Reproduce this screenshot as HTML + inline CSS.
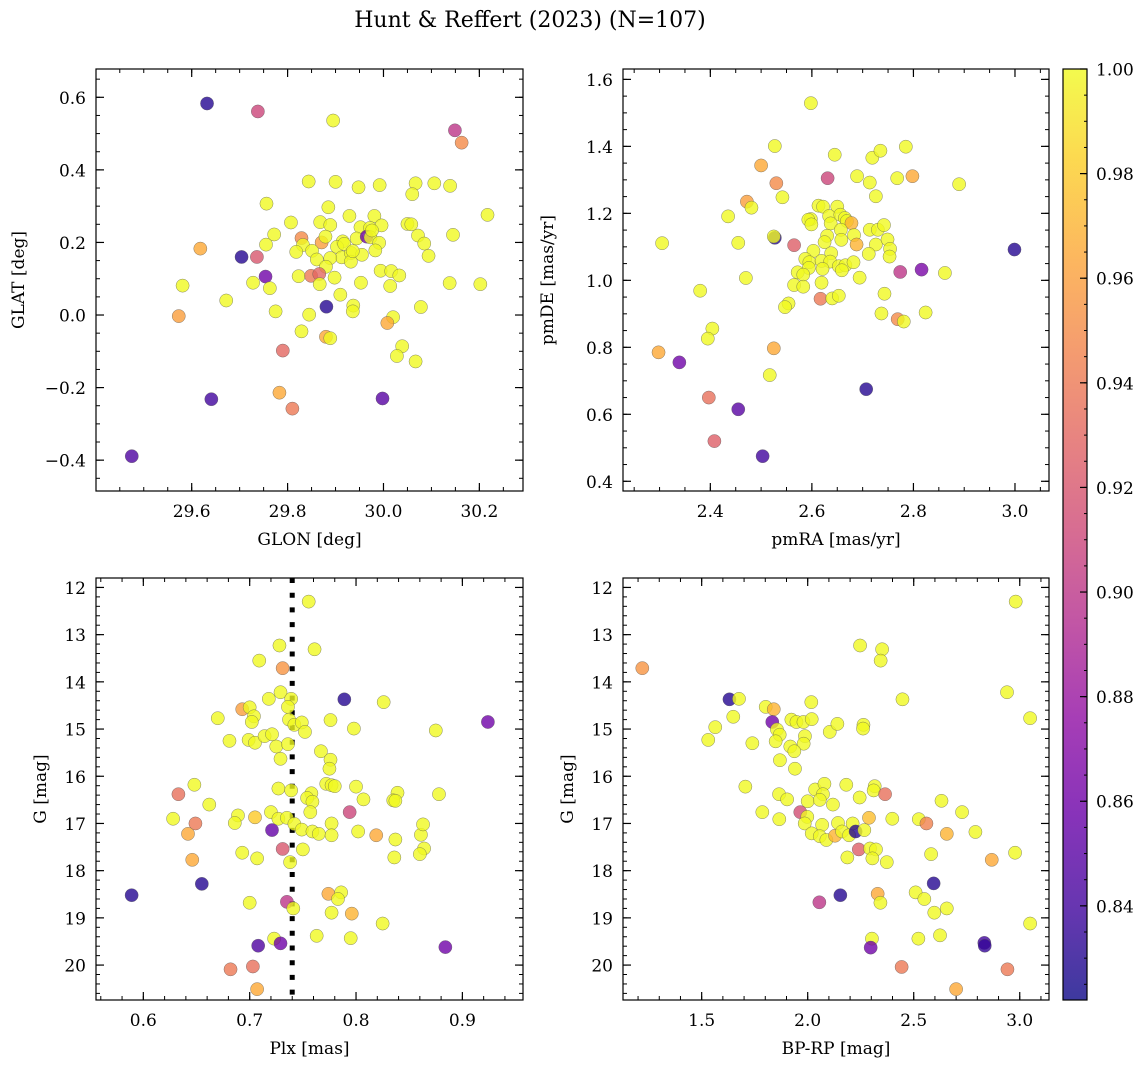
<!DOCTYPE html>
<html><head><meta charset="utf-8">
<style>
html,body{margin:0;padding:0;background:#fff;}
svg{display:block;font-family:"DejaVu Serif","Liberation Serif",serif;}
</style></head>
<body>
<svg id="fig" width="1148" height="1068" viewBox="0 0 1148 1068" xmlns="http://www.w3.org/2000/svg">
<text x="530" y="27" font-size="22" text-anchor="middle">Hunt &amp; Reffert (2023) (N=107)</text>
<defs>
<linearGradient id="plasma" x1="0" y1="1" x2="0" y2="0">
<stop offset="0" stop-color="#0d0887"/><stop offset="0.1" stop-color="#41049d"/><stop offset="0.2" stop-color="#6a00a8"/><stop offset="0.3" stop-color="#8f0da4"/><stop offset="0.4" stop-color="#b12a90"/><stop offset="0.5" stop-color="#cc4778"/><stop offset="0.6" stop-color="#e16462"/><stop offset="0.7" stop-color="#f2844b"/><stop offset="0.8" stop-color="#fca636"/><stop offset="0.9" stop-color="#fcce25"/><stop offset="1" stop-color="#f0f921"/>
</linearGradient>
</defs>
</svg>
<script>
// ---------- DATA ----------
const p1x=[29.632,29.738,29.895,30.149,30.163,29.844,29.900,29.948,29.992,30.067,30.060,30.106,30.139,29.756,29.885,30.217,29.929,29.981,29.807,29.868,29.889,29.952,29.972,29.996,30.050,30.058,30.072,30.145,29.772,29.755,29.829,29.832,29.871,29.879,29.915,29.944,29.965,29.973,29.991,29.903,29.818,29.851,29.913,29.932,29.955,29.983,30.085,30.094,29.861,29.889,29.932,29.880,29.618,29.704,29.736,29.754,29.823,29.849,29.866,29.867,29.898,29.953,29.994,30.016,30.033,30.014,30.138,30.202,29.581,29.728,29.763,29.672,29.910,29.881,29.937,29.936,30.078,29.573,29.775,29.845,29.829,29.880,29.889,30.020,30.008,30.039,30.028,30.067,29.790,29.783,29.810,29.641,29.998,29.475,29.918,29.936,29.976];
const p1y=[0.583,0.561,0.536,0.509,0.475,0.368,0.367,0.352,0.358,0.363,0.333,0.363,0.356,0.307,0.297,0.276,0.273,0.273,0.255,0.256,0.248,0.242,0.240,0.247,0.251,0.250,0.219,0.221,0.222,0.194,0.212,0.193,0.200,0.216,0.203,0.211,0.216,0.214,0.199,0.188,0.174,0.177,0.159,0.171,0.166,0.178,0.197,0.163,0.153,0.157,0.147,0.133,0.183,0.160,0.160,0.106,0.107,0.108,0.113,0.085,0.103,0.089,0.122,0.121,0.109,0.080,0.088,0.085,0.081,0.089,0.074,0.040,0.056,0.023,0.026,0.010,0.022,-0.003,0.010,0.001,-0.045,-0.060,-0.064,-0.006,-0.022,-0.086,-0.113,-0.128,-0.098,-0.214,-0.258,-0.232,-0.230,-0.389,0.196,0.176,0.233];
const p1p=[0.83,0.91,1,0.90,0.95,1,1,1,1,1,1,1,1,1,1,1,1,1,1,1,1,1,1,1,1,1,1,1,1,1,0.95,1,0.96,1,1,1,0.86,1,1,1,1,1,1,1,1,1,1,1,1,1,1,1,0.965,0.83,0.92,0.86,1,0.94,0.93,1,1,1,1,1,1,1,1,1,1,1,1,1,1,0.83,1,1,1,0.96,1,1,1,0.965,1,1,0.965,1,1,1,0.93,0.965,0.94,0.84,0.85,0.845,1,1,1];

const p2x=[2.598,2.527,2.645,2.719,2.735,2.785,2.500,2.530,2.631,2.689,2.714,2.768,2.798,2.890,2.726,2.542,2.472,2.481,2.435,2.613,2.622,2.650,2.598,2.593,2.634,2.656,2.665,2.669,2.678,2.637,2.599,2.714,2.730,2.742,2.657,2.630,2.683,2.658,2.625,2.688,2.726,2.749,2.754,2.753,2.712,2.603,2.638,2.587,2.595,2.619,2.636,2.653,2.666,2.682,2.594,2.621,2.659,2.572,2.583,2.565,2.583,2.619,2.694,2.527,2.525,2.565,2.455,2.305,2.774,2.816,2.862,2.999,2.470,2.380,2.617,2.640,2.653,2.743,2.554,2.547,2.737,2.824,2.769,2.781,2.404,2.395,2.298,2.339,2.525,2.517,2.707,2.397,2.455,2.408,2.503];
const p2y=[1.529,1.401,1.375,1.366,1.387,1.399,1.343,1.290,1.305,1.311,1.292,1.305,1.311,1.287,1.251,1.248,1.235,1.217,1.191,1.223,1.220,1.220,1.183,1.181,1.192,1.196,1.186,1.177,1.171,1.170,1.167,1.151,1.151,1.165,1.151,1.133,1.135,1.121,1.114,1.107,1.107,1.122,1.094,1.071,1.079,1.088,1.081,1.064,1.054,1.058,1.056,1.042,1.045,1.054,1.037,1.034,1.030,1.024,1.017,0.986,0.981,0.993,1.008,1.127,1.131,1.105,1.112,1.111,1.025,1.032,1.022,1.092,1.007,0.969,0.945,0.946,0.954,0.960,0.931,0.920,0.901,0.904,0.884,0.877,0.856,0.826,0.785,0.755,0.797,0.717,0.675,0.650,0.615,0.520,0.475];
const p2p=[1,1,1,1,1,1,0.965,0.95,0.91,1,1,1,0.965,1,1,1,0.96,1,1,1,1,1,1,1,1,1,1,1,0.97,1,1,1,1,1,1,1,1,1,1,0.97,1,1,1,1,1,1,1,1,1,1,1,1,1,1,1,1,1,1,1,1,1,1,1,0.83,1,0.925,1,1,0.90,0.865,1,0.83,1,1,0.94,1,1,1,1,1,1,1,0.95,1,1,1,0.965,0.86,0.965,1,0.83,0.935,0.85,0.925,0.84];

const p3x=[0.7555,0.728,0.761,0.709,0.731,0.729,0.718,0.739,0.736,0.789,0.826,0.693,0.700,0.704,0.702,0.670,0.737,0.742,0.749,0.752,0.776,0.798,0.875,0.924,0.681,0.699,0.705,0.714,0.721,0.725,0.736,0.729,0.767,0.776,0.775,0.772,0.777,0.780,0.800,0.727,0.739,0.758,0.754,0.759,0.807,0.839,0.835,0.837,0.878,0.648,0.633,0.662,0.628,0.649,0.642,0.689,0.686,0.705,0.720,0.727,0.735,0.742,0.749,0.757,0.759,0.765,0.777,0.777,0.794,0.802,0.819,0.837,0.861,0.863,0.864,0.860,0.836,0.721,0.731,0.750,0.738,0.707,0.693,0.646,0.655,0.589,0.700,0.735,0.741,0.774,0.786,0.783,0.777,0.796,0.825,0.723,0.729,0.708,0.763,0.795,0.884,0.682,0.703,0.707];
const p3y=[12.30,13.23,13.31,13.55,13.71,14.22,14.36,14.36,14.53,14.37,14.43,14.58,14.54,14.73,14.85,14.77,14.80,14.91,14.86,15.06,14.81,14.99,15.03,14.85,15.25,15.23,15.29,15.15,15.11,15.37,15.32,15.63,15.47,15.65,15.84,16.16,16.19,16.21,16.22,16.26,16.30,16.36,16.46,16.54,16.49,16.35,16.51,16.52,16.38,16.18,16.38,16.60,16.90,17.00,17.22,16.83,16.99,16.87,16.76,16.90,16.88,17.01,17.13,16.76,17.17,17.22,17.00,17.25,16.76,17.17,17.25,17.34,17.24,17.02,17.53,17.65,17.72,17.14,17.54,17.55,17.82,17.74,17.62,17.77,18.28,18.52,18.68,18.66,18.80,18.49,18.46,18.60,18.89,18.91,19.12,19.44,19.54,19.59,19.38,19.43,19.62,20.09,20.03,20.51];
const p3p=[1,1,1,1,0.955,1,1,1,1,0.83,1,0.96,1,1,1,1,1,1,1,1,1,1,1,0.86,1,1,1,1,1,1,1,1,1,1,1,1,1,1,1,1,1,1,1,1,1,1,1,1,1,1,0.935,1,1,0.94,0.965,1,1,0.98,1,1,1,1,1,1,1,1,1,1,0.91,1,0.965,1,1,1,1,1,1,0.855,0.92,1,1,1,1,0.965,0.83,0.83,1,0.90,1,0.965,1,1,1,0.97,1,1,0.86,0.845,1,1,0.86,0.94,0.935,0.965];
const plxRef=[0.740];

const p4x=[2.981,2.247,2.351,2.344,1.220,2.940,2.447,1.631,1.676,3.049,2.017,1.802,1.840,1.833,1.649,1.564,1.531,1.739,1.855,1.868,1.849,1.923,1.947,1.980,2.019,1.987,1.981,1.918,1.937,2.104,2.140,2.263,2.261,1.869,1.940,1.706,1.865,1.903,1.786,1.866,2.000,2.035,2.079,2.072,2.057,2.119,2.182,2.245,2.316,2.311,2.365,1.965,1.998,1.986,2.068,2.019,2.057,2.088,2.129,2.143,2.162,2.195,2.212,2.226,2.267,2.289,2.399,2.187,2.241,2.294,2.322,2.305,2.373,2.524,2.560,2.631,2.728,2.656,2.791,2.582,2.868,2.978,2.594,2.154,2.055,2.330,2.343,2.509,2.550,2.597,2.656,3.049,2.303,2.297,2.522,2.624,2.833,2.835,2.443,2.942,2.700];
const p4y=[12.30,13.23,13.31,13.55,13.71,14.22,14.37,14.37,14.36,14.77,14.43,14.53,14.58,14.85,14.74,14.96,15.23,15.30,15.01,15.12,15.26,14.80,14.85,14.85,14.79,15.15,15.31,15.37,15.47,15.06,14.89,14.91,14.99,15.66,15.84,16.22,16.38,16.49,16.76,16.91,16.53,16.28,16.16,16.38,16.50,16.60,16.18,16.45,16.21,16.30,16.38,16.76,16.86,17.00,17.03,17.21,17.27,17.35,17.26,16.99,17.17,17.25,17.00,17.17,17.14,16.88,16.90,17.72,17.55,17.53,17.55,17.74,17.82,16.91,17.00,16.52,16.76,17.22,17.18,17.65,17.77,17.62,18.27,18.52,18.67,18.49,18.68,18.46,18.60,18.89,18.80,19.12,19.44,19.63,19.44,19.37,19.53,19.59,20.04,20.09,20.51];
const p4p=[1,1,1,1,0.955,1,1,0.83,1,1,1,1,0.97,0.86,1,1,1,1,1,1,1,1,1,1,1,1,1,1,1,1,1,1,1,1,1,1,1,1,1,1,1,1,1,1,1,1,1,1,1,1,0.935,0.915,1,1,1,1,1,1,0.97,1,1,1,1,0.83,1,0.975,1,1,0.925,1,1,1,1,1,0.945,1,1,0.97,1,1,0.965,1,0.83,0.83,0.90,0.965,1,1,1,1,1,1,1,0.86,1,1,0.84,0.835,0.94,0.94,0.965];

const ticks1x=[29.6,29.8,30.0,30.2], ticks1y=[-0.4,-0.2,0.0,0.2,0.4,0.6];
const ticks2x=[2.4,2.6,2.8,3.0], ticks2y=[0.4,0.6,0.8,1.0,1.2,1.4,1.6];
const ticks3x=[0.6,0.7,0.8,0.9], ticksGy=[12,13,14,15,16,17,18,19,20];
const ticks4x=[1.5,2.0,2.5,3.0];
const cbarTicks=[0.84,0.86,0.88,0.90,0.92,0.94,0.96,0.98,1.00];
const cbarRange=[0.822,1.0];

// ---------- RENDER ----------
const NS="http://www.w3.org/2000/svg";
const svg=document.getElementById('fig');
const FS=17;
function mk(tag,attrs,parent){const e=document.createElementNS(NS,tag);for(const k in attrs)e.setAttribute(k,attrs[k]);(parent||svg).appendChild(e);return e;}
const stops=[[13,8,135],[65,4,157],[106,0,168],[143,13,164],[177,42,144],[204,71,120],[225,100,98],[242,132,75],[252,166,54],[252,206,37],[240,249,33]];
function plasma(t){t=Math.max(0,Math.min(1,t))*10;const i=Math.min(9,Math.floor(t)),f=t-i;const a=stops[i],b=stops[i+1];return 'rgb('+[0,1,2].map(k=>Math.round(a[k]+(b[k]-a[k])*f)).join(',')+')';}
function cnorm(p){return (p-cbarRange[0])/(cbarRange[1]-cbarRange[0]);}
function fmt(v,d){const s=Math.abs(v).toFixed(d);return (v<-1e-9?'\u2212':'')+s;}

function panel(o){
  const [X0,Y0,X1,Y1]=o.box;
  const sx=v=>X0+(v-o.xlim[0])/(o.xlim[1]-o.xlim[0])*(X1-X0);
  const sy=o.invert? v=>Y0+(v-o.ylim[0])/(o.ylim[1]-o.ylim[0])*(Y1-Y0) : v=>Y1-(v-o.ylim[0])/(o.ylim[1]-o.ylim[0])*(Y1-Y0);
  const g=mk('g',{});
  
  
  const ymin=Math.min(...o.ylim),ymax=Math.max(...o.ylim);
  for(let k=Math.ceil(o.xlim[0]/o.xminor-1e-6);k*o.xminor<=o.xlim[1]+1e-9;k++){const x=sx(k*o.xminor);
    mk('line',{x1:x,y1:Y1,x2:x,y2:Y1-4,stroke:'#000','stroke-width':1},g);mk('line',{x1:x,y1:Y0,x2:x,y2:Y0+4,stroke:'#000','stroke-width':1},g);}
  for(let k=Math.ceil(ymin/o.yminor-1e-6);k*o.yminor<=ymax+1e-9;k++){const y=sy(k*o.yminor);
    mk('line',{x1:X0,y1:y,x2:X0+4,y2:y,stroke:'#000','stroke-width':1},g);mk('line',{x1:X1,y1:y,x2:X1-4,y2:y,stroke:'#000','stroke-width':1},g);}
  o.xt.forEach(v=>{const x=sx(v);
    mk('line',{x1:x,y1:Y1,x2:x,y2:Y1-8,stroke:'#000','stroke-width':1.2},g);mk('line',{x1:x,y1:Y0,x2:x,y2:Y0+8,stroke:'#000','stroke-width':1.2},g);
    const t=mk('text',{x:x,y:Y1+26,'font-size':FS,'text-anchor':'middle'},g);t.textContent=fmt(v,o.xd);
    
    });
  o.yt.forEach(v=>{const y=sy(v);
    mk('line',{x1:X0,y1:y,x2:X0+8,y2:y,stroke:'#000','stroke-width':1.2},g);mk('line',{x1:X1,y1:y,x2:X1-8,y2:y,stroke:'#000','stroke-width':1.2},g);
    const t=mk('text',{x:X0-10,y:y+6.5,'font-size':FS,'text-anchor':'end'},g);t.textContent=fmt(v,o.yd);
    
    });
  if(o.vline!==undefined){const x=sx(o.vline);
    const l=mk('line',{x1:x,y1:Y0,x2:x,y2:Y1,stroke:'#000','stroke-width':5,'stroke-dasharray':'5,9.7'},g);
    
    }
  o.xs.forEach((v,i)=>{const c=mk('circle',{cx:sx(v),cy:sy(o.ys[i]),r:6.6,fill:plasma(cnorm(o.ps[i])),'fill-opacity':0.8,stroke:'#555','stroke-opacity':0.7,'stroke-width':0.5},g);
    
    });
  const fr=mk('rect',{x:X0,y:Y0,width:X1-X0,height:Y1-Y0,fill:'none',stroke:'#000','stroke-width':1.2},g);
  
  
  const xl=mk('text',{x:(X0+X1)/2,y:Y1+54,'font-size':FS,'text-anchor':'middle'},g);xl.textContent=o.xlabel;
  
  
  const ylx=o.ylx,ylc=(Y0+Y1)/2;
  const yl=mk('text',{x:ylx,y:ylc,'font-size':FS,'text-anchor':'middle',transform:'rotate(-90 '+ylx+' '+ylc+')'},g);yl.textContent=o.ylabel;
  
  
}
panel({name:'glon-glat-panel',box:[96,69,523,491],xlim:[29.4004,30.291],ylim:[-0.485,0.678],xt:ticks1x,yt:ticks1y,xminor:0.05,yminor:0.05,xd:1,yd:1,xs:p1x,ys:p1y,ps:p1p,xlabel:'GLON [deg]',ylabel:'GLAT [deg]',ylx:24});
panel({name:'proper-motion-panel',box:[623,69,1049,491],xlim:[2.228,3.067],ylim:[0.371,1.631],xt:ticks2x,yt:ticks2y,xminor:0.05,yminor:0.05,xd:1,yd:1,xs:p2x,ys:p2y,ps:p2p,xlabel:'pmRA [mas/yr]',ylabel:'pmDE [mas/yr]',ylx:553});
panel({name:'parallax-magnitude-panel',box:[96,578,523,1000],xlim:[0.5555,0.957],ylim:[11.80,20.74],invert:true,xt:ticks3x,yt:ticksGy,xminor:0.02,yminor:0.2,xd:1,yd:0,xs:p3x,ys:p3y,ps:p3p,vline:plxRef[0],xlabel:'Plx [mas]',ylabel:'G [mag]',ylx:46});
panel({name:'color-magnitude-panel',box:[623,578,1049,1000],xlim:[1.129,3.138],ylim:[11.80,20.74],invert:true,xt:ticks4x,yt:ticksGy,xminor:0.1,yminor:0.2,xd:1,yd:0,xs:p4x,ys:p4y,ps:p4p,xlabel:'BP-RP [mag]',ylabel:'G [mag]',ylx:573});

// colorbar
const CB=[1063,69,1087,1000];
const cg=mk('g',{});


mk('rect',{x:CB[0],y:CB[1],width:CB[2]-CB[0],height:CB[3]-CB[1],fill:'url(#plasma)','fill-opacity':0.8},cg);
const cy=v=>CB[3]-(v-cbarRange[0])/(cbarRange[1]-cbarRange[0])*(CB[3]-CB[1]);
for(let k=Math.ceil(cbarRange[0]/0.005-1e-6);k*0.005<=cbarRange[1]+1e-9;k++){const y=cy(k*0.005);mk('line',{x1:CB[2],y1:y,x2:CB[2]-3,y2:y,stroke:'#000','stroke-width':1},cg);}
cbarTicks.forEach(v=>{const y=cy(v);mk('line',{x1:CB[2],y1:y,x2:CB[2]-7,y2:y,stroke:'#000','stroke-width':1.2},cg);
  const t=mk('text',{x:CB[2]+9,y:y+6.5,'font-size':FS},cg);t.textContent=v.toFixed(2);
  
  });
mk('rect',{x:CB[0],y:CB[1],width:CB[2]-CB[0],height:CB[3]-CB[1],fill:'none',stroke:'#000','stroke-width':1.2},cg);
</script>
</body></html>
